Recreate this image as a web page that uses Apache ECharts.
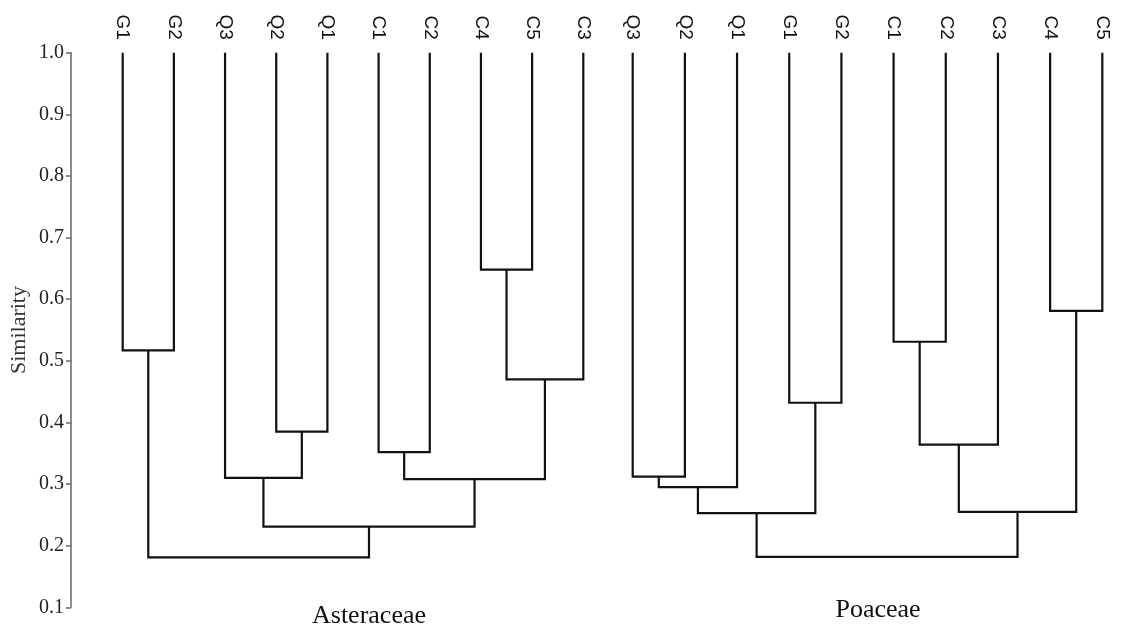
<!DOCTYPE html>
<html>
<head>
<meta charset="utf-8">
<script src="https://cdn.jsdelivr.net/npm/echarts@6/dist/echarts.min.js"></script>
<style>
  html, body { margin: 0; padding: 0; background: #fff; }
  #chart { width: 1128px; height: 628px; }
</style>
</head>
<body>
<div id="chart"></div>
<script>
// Leaf order of each dendrogram (left to right)
const asteraceaeLeaves = ['G1', 'G2', 'Q3', 'Q2', 'Q1', 'C1', 'C2', 'C4', 'C5', 'C3'];
const poaceaeLeaves = ['Q3', 'Q2', 'Q1', 'G1', 'G2', 'C1', 'C2', 'C3', 'C4', 'C5'];

// Linkage rows: [child A, child B, similarity].
// Children < 10 are leaf indices; child 10 + k is the cluster formed in row k.
const asteraceaeMerges = [
  [0, 1, 0.517],
  [3, 4, 0.385],
  [2, 11, 0.310],
  [5, 6, 0.352],
  [7, 8, 0.648],
  [14, 9, 0.470],
  [13, 15, 0.308],
  [12, 16, 0.231],
  [10, 17, 0.181]
];
const poaceaeMerges = [
  [0, 1, 0.312],
  [10, 2, 0.295],
  [3, 4, 0.432],
  [11, 12, 0.253],
  [5, 6, 0.531],
  [14, 7, 0.364],
  [8, 9, 0.581],
  [15, 16, 0.255],
  [13, 17, 0.182]
];

const yTicks = { min: 0.1, max: 1.0, step: 0.1 };
const leafSimilarity = 1.0;

// Turn linkage rows into U-shaped links: [xA, hA, xB, hB, h]
function buildLinks(leaves, merges) {
  const n = leaves.length;
  const pos = [];
  const height = [];
  for (let i = 0; i < n; i++) { pos[i] = i; height[i] = leafSimilarity; }
  const links = [];
  merges.forEach(function (m, k) {
    const a = m[0], b = m[1], h = m[2];
    links.push([pos[a], height[a], pos[b], height[b], h]);
    pos[n + k] = (pos[a] + pos[b]) / 2;
    height[n + k] = h;
  });
  return links;
}

function renderLink(params, api) {
  const p1 = api.coord([api.value(0), api.value(1)]);
  const p2 = api.coord([api.value(0), api.value(4)]);
  const p3 = api.coord([api.value(2), api.value(4)]);
  const p4 = api.coord([api.value(2), api.value(3)]);
  return {
    type: 'polyline',
    shape: { points: [p1, p2, p3, p4] },
    style: { fill: null, stroke: '#111', lineWidth: 2.2, lineJoin: 'miter' }
  };
}

function leafAxis(leaves, gridIndex) {
  return {
    type: 'value',
    gridIndex: gridIndex,
    position: 'top',
    min: 0,
    max: leaves.length - 1,
    interval: 1,
    axisLine: { show: false, onZero: false },
    axisTick: { show: false },
    splitLine: { show: false },
    axisLabel: {
      rotate: 90,
      margin: 13,
      fontFamily: 'Liberation Sans',
      fontSize: 19,
      color: '#111',
      formatter: function (v) { return leaves[Math.round(v)]; }
    }
  };
}

const chart = echarts.init(document.getElementById('chart'), null, { renderer: 'canvas' });

chart.setOption({
  backgroundColor: '#fff',
  animation: false,
  grid: [
    { left: 122.7, width: 460.6, top: 52.8, height: 554.5 },
    { left: 632.7, width: 469.6, top: 52.8, height: 554.5 }
  ],
  xAxis: [leafAxis(asteraceaeLeaves, 0), leafAxis(poaceaeLeaves, 1)],
  yAxis: [
    {
      type: 'value',
      gridIndex: 0,
      min: yTicks.min,
      max: yTicks.max,
      interval: yTicks.step,
      offset: 51.7,
      name: 'Similarity',
      nameLocation: 'middle',
      nameGap: 41,
      nameTextStyle: { fontFamily: 'Liberation Serif', fontSize: 22, color: '#333' },
      axisLine: { show: true, onZero: false, lineStyle: { color: '#666', width: 1.5 } },
      axisTick: { show: true, length: 5, lineStyle: { color: '#666', width: 1.5 } },
      splitLine: { show: false },
      axisLabel: {
        margin: 7,
        fontFamily: 'Liberation Serif',
        fontSize: 20,
        color: '#222',
        formatter: function (v) { return v.toFixed(1); }
      }
    },
    {
      type: 'value',
      gridIndex: 1,
      min: yTicks.min,
      max: yTicks.max,
      show: false
    }
  ],
  graphic: [
    {
      type: 'text',
      x: 369, y: 616,
      style: { text: 'Asteraceae', font: '26px "Liberation Serif"', fill: '#111', align: 'center', verticalAlign: 'middle' }
    },
    {
      type: 'text',
      x: 878, y: 610,
      style: { text: 'Poaceae', font: '26px "Liberation Serif"', fill: '#111', align: 'center', verticalAlign: 'middle' }
    }
  ],
  series: [
    {
      type: 'custom',
      xAxisIndex: 0,
      yAxisIndex: 0,
      renderItem: renderLink,
      encode: { x: [0, 2], y: [1, 3, 4] },
      data: buildLinks(asteraceaeLeaves, asteraceaeMerges),
      silent: true
    },
    {
      type: 'custom',
      xAxisIndex: 1,
      yAxisIndex: 1,
      renderItem: renderLink,
      encode: { x: [0, 2], y: [1, 3, 4] },
      data: buildLinks(poaceaeLeaves, poaceaeMerges),
      silent: true
    }
  ]
});
</script>
</body>
</html>
